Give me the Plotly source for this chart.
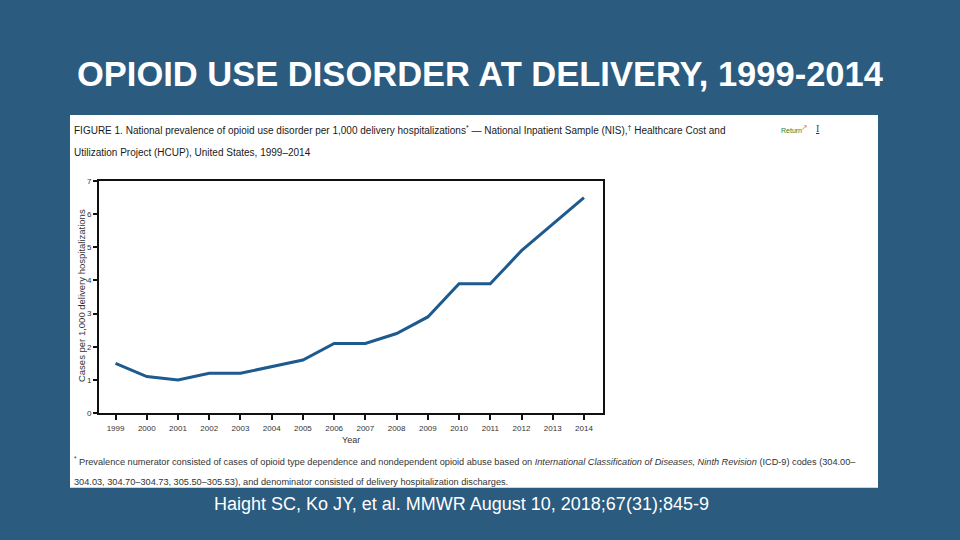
import plotly.graph_objects as go

years = [1999, 2000, 2001, 2002, 2003, 2004, 2005, 2006, 2007, 2008, 2009, 2010, 2011, 2012, 2013, 2014]
cases_per_1000 = [1.5, 1.1, 1.0, 1.2, 1.2, 1.4, 1.6, 2.1, 2.1, 2.4, 2.9, 3.9, 3.9, 4.9, 5.7, 6.5]
y_ticks = [0, 1, 2, 3, 4, 5, 6, 7]

W, H = 960, 540
BG = "#2B5B7F"
def px(x):
    return x / W
def py(y):
    return 1 - y / H

NARROW = "Liberation Sans Narrow, Arial Narrow, Liberation Sans, Arial, sans-serif"
SANS = "Liberation Sans, Arial, sans-serif"

fig = go.Figure()
fig.add_trace(go.Scatter(
    x=years, y=cases_per_1000, mode="lines",
    line=dict(color="#1D5A8E", width=3),
    hoverinfo="x+y", showlegend=False,
))

fig.update_layout(
    width=W, height=H,
    margin=dict(l=0, r=0, t=0, b=0),
    paper_bgcolor=BG, plot_bgcolor="white",
    xaxis=dict(
        domain=[px(99), px(603)], range=[1998.47, 2014.61],
        tickvals=years, ticktext=[str(y) for y in years],
        showgrid=False, zeroline=False,
        showline=True, linecolor="#111", linewidth=2, mirror=True,
        ticks="outside", ticklen=5, tickcolor="#111", tickwidth=1.5,
        tickfont=dict(family=NARROW, size=8, color="#333"),
        ticklabelstandoff=1,
    ),
    yaxis=dict(
        domain=[py(416), py(180)], range=[0, 7],
        tickvals=y_ticks, ticktext=[str(v) for v in y_ticks],
        showgrid=False, zeroline=False,
        showline=True, linecolor="#111", linewidth=2, mirror=True,
        ticks="outside", ticklen=4, tickcolor="#111", tickwidth=1.5,
        tickfont=dict(family=NARROW, size=8, color="#333"),
        ticklabelstandoff=0,
    ),
    shapes=[
        dict(type="rect", xref="paper", yref="paper", layer="below",
             x0=px(70), x1=px(878), y0=py(492), y1=py(113),
             fillcolor="white", line=dict(width=0)),
    ],
)

ann = []
ann.append(dict(text="<b>OPIOID USE DISORDER AT DELIVERY, 1999-2014</b>",
                x=px(480), y=py(71), xref="paper", yref="paper",
                xanchor="center", yanchor="middle", showarrow=False,
                font=dict(family=SANS, size=34.5, color="white")))
ann.append(dict(text="FIGURE 1. National prevalence of opioid use disorder per 1,000 delivery hospitalizations<sup>*</sup> — National Inpatient Sample (NIS),<sup>†</sup> Healthcare Cost and",
                x=px(72), y=py(128), xref="paper", yref="paper",
                xanchor="left", yanchor="middle", showarrow=False,
                font=dict(family=NARROW, size=10, color="#1a1a1a")))
ann.append(dict(text="Utilization Project (HCUP), United States, 1999–2014",
                x=px(72), y=py(151), xref="paper", yref="paper",
                xanchor="left", yanchor="middle", showarrow=False,
                font=dict(family=NARROW, size=10, color="#1a1a1a")))
ann.append(dict(text="Return",
                x=px(791), y=py(129), xref="paper", yref="paper",
                xanchor="center", yanchor="middle", showarrow=False,
                font=dict(family=NARROW, size=7, color="#2E7D32")))
ann.append(dict(text="↗",
                x=px(804), y=py(126), xref="paper", yref="paper",
                xanchor="center", yanchor="middle", showarrow=False,
                font=dict(family="DejaVu Sans", size=8, color="#E8902A")))
ann.append(dict(text="<u>I</u>",
                x=px(817), y=py(127), xref="paper", yref="paper",
                xanchor="center", yanchor="middle", showarrow=False,
                font=dict(family="Liberation Serif, serif", size=10, color="#1F3F73")))
ann.append(dict(text="Cases per 1,000 delivery hospitalizations",
                x=px(81), y=py(297), xref="paper", yref="paper",
                xanchor="center", yanchor="middle", showarrow=False, textangle=-90,
                font=dict(family=NARROW, size=9.5, color="#333")))
ann.append(dict(text="Year",
                x=px(351), y=py(443), xref="paper", yref="paper",
                xanchor="center", yanchor="middle", showarrow=False,
                font=dict(family=NARROW, size=9, color="#333")))
ann.append(dict(text="<sup>*</sup> Prevalence numerator consisted of cases of opioid type dependence and nondependent opioid abuse based on <i>International Classification of Diseases, Ninth Revision</i> (ICD-9) codes (304.00–",
                x=px(72), y=py(465), xref="paper", yref="paper",
                xanchor="left", yanchor="middle", showarrow=False,
                font=dict(family=NARROW, size=9.2, color="#333")))
ann.append(dict(text="304.03, 304.70–304.73, 305.50–305.53), and denominator consisted of delivery hospitalization discharges.",
                x=px(72), y=py(486), xref="paper", yref="paper",
                xanchor="left", yanchor="middle", showarrow=False,
                font=dict(family=NARROW, size=9.2, color="#333")))
ann.append(dict(text="Haight SC, Ko JY, et al. MMWR August 10, 2018;67(31);845-9",
                x=px(461), y=py(508), xref="paper", yref="paper",
                xanchor="center", yanchor="middle", showarrow=False,
                font=dict(family=SANS, size=18, color="white")))
fig.update_layout(annotations=ann)

fig.write_html("out.html",
               config={"displayModeBar": False},
               post_script="document.body.style.margin='0';document.body.style.padding='0';document.body.style.background='" + BG + "';")
